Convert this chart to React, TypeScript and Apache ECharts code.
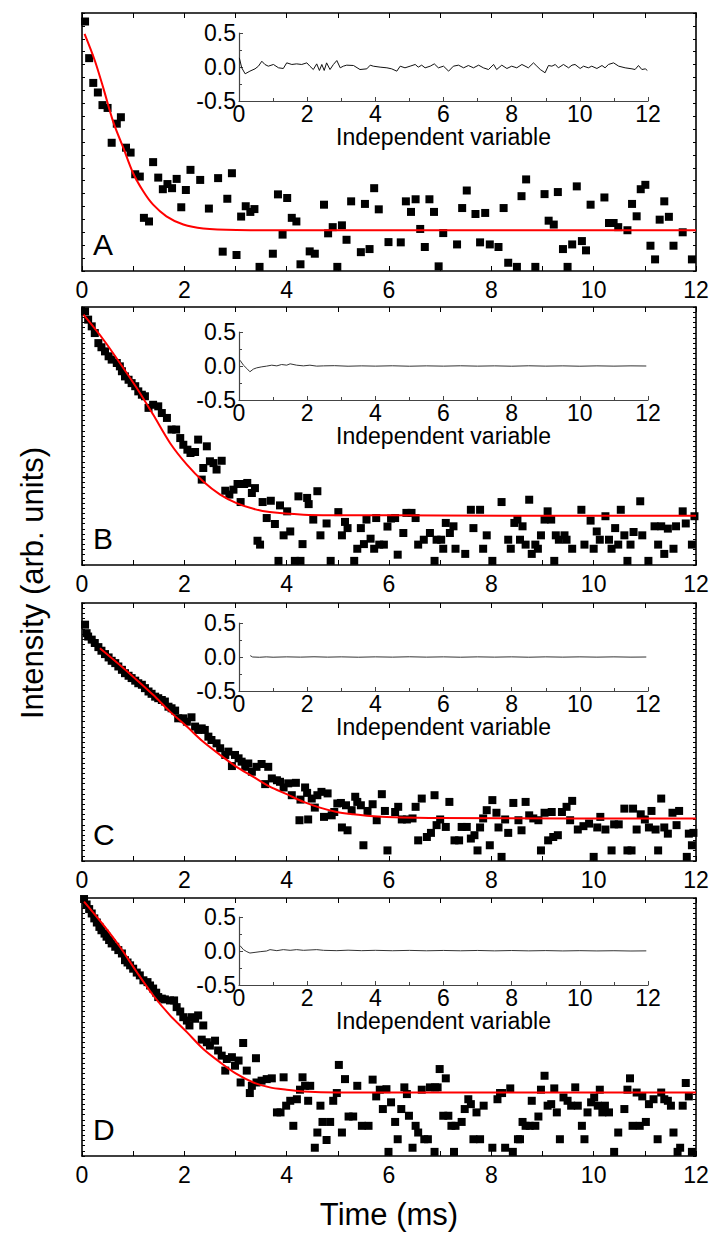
import React, { useEffect, useRef } from "react";
import * as echarts from "echarts";

const FONT = "'Liberation Sans', Arial, Helvetica, sans-serif";

const panelLetters = ["A", "B", "C", "D"];
const xAxisTitle = "Time (ms)";
const yAxisTitle = "Intensity (arb. units)";
const insetAxisTitle = "Independent variable";

// Panel A data (x in ms, y in % of panel height)
const scatterA = [
  [0.06, 96.7], [0.14, 82.5], [0.22, 72.9], [0.31, 69.2], [0.4, 64.3], [0.5, 63.2], [0.58, 49.7], [0.68, 57.1],
  [0.76, 59.6], [0.86, 47.8], [0.95, 45.9], [1.04, 37.5], [1.13, 36.6], [1.21, 20.6], [1.31, 19.2], [1.39, 42.2],
  [1.49, 36.2], [1.58, 31.7], [1.67, 33.7], [1.76, 32.1], [1.85, 35.7], [1.94, 24.7], [2.03, 31.4], [2.12, 39.2],
  [2.31, 35.3], [2.48, 24.2], [2.66, 36.0], [2.75, 7.5], [2.84, 28.0], [2.93, 37.9], [3.02, 6.2], [3.11, 21.1],
  [3.2, 25.1], [3.29, 22.9], [3.37, 24.0], [3.47, 1.6], [3.73, 6.7], [3.83, 29.7], [3.92, 14.1], [4.01, 28.3],
  [4.1, 20.6], [4.19, 19.2], [4.27, 2.6], [4.45, 7.6], [4.55, 6.7], [4.73, 25.7], [4.81, 14.6], [4.9, 17.0],
  [4.99, 1.6], [5.08, 17.7], [5.17, 12.1], [5.26, 27.0], [5.45, 7.3], [5.53, 26.0], [5.62, 8.5], [5.71, 32.1],
  [5.8, 23.9], [5.99, 11.2], [6.23, 11.1], [6.33, 27.0], [6.43, 22.9], [6.52, 27.8], [6.61, 16.3], [6.7, 9.3],
  [6.79, 27.8], [6.88, 22.9], [6.97, 1.8], [7.06, 14.7], [7.33, 10.3], [7.43, 24.4], [7.52, 31.2], [7.69, 22.1],
  [7.78, 11.1], [7.88, 22.5], [7.97, 10.3], [8.14, 9.3], [8.24, 24.4], [8.33, 3.2], [8.5, 1.6], [8.59, 29.0],
  [8.68, 35.5], [8.86, 1.6], [9.04, 29.8], [9.12, 19.5], [9.22, 18.0], [9.3, 30.6], [9.4, 8.5], [9.49, 1.6],
  [9.58, 10.3], [9.67, 32.8], [9.77, 11.6], [9.85, 8.0], [9.94, 25.7], [10.21, 28.5], [10.3, 18.6], [10.39, 18.6],
  [10.48, 17.0], [10.66, 15.8], [10.75, 26.0], [10.84, 21.2], [10.92, 31.7], [11.01, 33.4], [11.11, 9.8],
  [11.2, 4.5], [11.29, 19.9], [11.38, 27.0], [11.47, 21.0], [11.56, 9.8], [11.74, 15.0], [11.92, 4.5],
];
const fitA = [
  [0.05, 91.9], [0.25, 81.6], [0.42, 70.7], [0.61, 57.8], [0.81, 47.6], [1.0, 37.9], [1.2, 30.8], [1.39, 25.7],
  [1.65, 21.2], [1.98, 18.0], [2.37, 16.5], [3.02, 15.9], [4.0, 15.8], [6.0, 15.8], [9.0, 15.8], [12.0, 15.8],
];
const residA = [
  [0.01, 0.134], [0.08, -0.012], [0.18, -0.1], [0.32, -0.061], [0.47, -0.027], [0.57, 0.012], [0.67, 0.085],
  [0.76, 0.037], [0.86, 0.012], [1.01, 0.037], [1.16, -0.012], [1.3, -0.022], [1.4, 0.061], [1.55, 0.037],
  [1.69, 0.046], [1.84, 0.037], [1.99, 0.061], [2.08, 0.012], [2.18, -0.037], [2.28, 0.046], [2.36, -0.051],
  [2.43, 0.037], [2.5, -0.051], [2.57, 0.061], [2.67, -0.037], [2.77, 0.037], [2.87, 0.095], [2.97, -0.012],
  [3.06, 0.012], [3.16, 0.027], [3.36, 0.022], [3.55, -0.037], [3.75, -0.027], [3.85, 0.027], [3.94, 0.012],
  [4.14, -0.002], [4.34, -0.012], [4.48, -0.027], [4.63, -0.061], [4.73, 0.012], [4.87, -0.012], [5.02, 0.012],
  [5.17, 0.037], [5.26, -0.002], [5.36, 0.027], [5.46, -0.012], [5.61, 0.012], [5.73, 0.046], [5.85, -0.012],
  [6.0, 0.012], [6.15, -0.061], [6.29, 0.012], [6.44, 0.027], [6.59, -0.012], [6.73, 0.022], [6.88, -0.012],
  [7.03, 0.027], [7.17, -0.012], [7.32, -0.037], [7.47, 0.037], [7.56, -0.037], [7.71, 0.027], [7.86, -0.022],
  [8.0, 0.012], [8.15, -0.012], [8.3, 0.037], [8.49, -0.012], [8.64, 0.061], [8.74, 0.012], [8.84, -0.037],
  [8.98, -0.085], [9.08, 0.022], [9.18, 0.012], [9.28, 0.037], [9.37, -0.012], [9.52, 0.037], [9.67, -0.012],
  [9.77, 0.027], [9.86, 0.037], [10.01, -0.022], [10.11, 0.012], [10.25, -0.012], [10.35, 0.012], [10.5, -0.022],
  [10.65, 0.022], [10.74, -0.012], [10.84, 0.037], [10.99, 0.061], [11.14, 0.012], [11.33, -0.012],
  [11.53, -0.027], [11.62, -0.037], [11.72, 0.022], [11.82, -0.037], [11.92, -0.027], [11.98, -0.051],
];

// Panel B data
const scatterB = [
  [0.06, 98.3], [0.12, 95.1], [0.19, 92.5], [0.25, 89.9], [0.32, 86.0], [0.38, 84.4], [0.45, 82.8], [0.52, 80.9],
  [0.58, 79.6], [0.68, 78.3], [0.74, 77.0], [0.78, 75.1], [0.84, 73.1], [0.91, 71.8], [0.97, 70.5], [1.04, 69.3],
  [1.1, 67.3], [1.17, 66.0], [1.23, 65.4], [1.3, 60.9], [1.39, 62.1], [1.49, 61.5], [1.56, 58.9], [1.66, 57.0],
  [1.75, 52.5], [1.84, 52.5], [1.92, 49.2], [1.98, 46.6], [2.06, 44.7], [2.12, 43.4], [2.21, 43.8], [2.27, 48.6],
  [2.34, 33.1], [2.37, 37.6], [2.44, 46.0], [2.5, 40.2], [2.57, 39.5], [2.63, 37.0], [2.73, 40.4], [2.8, 28.8],
  [2.88, 27.3], [2.96, 29.2], [3.04, 31.4], [3.1, 24.4], [3.17, 31.4], [3.23, 31.8], [3.32, 27.9], [3.38, 29.8],
  [3.43, 9.4], [3.48, 7.9], [3.53, 24.4], [3.61, 18.2], [3.69, 24.9], [3.77, 15.9], [3.84, 1.6], [3.87, 23.1],
  [3.94, 11.5], [4.01, 20.8], [4.07, 13.0], [4.16, 1.6], [4.23, 26.6], [4.27, 1.6], [4.31, 8.1], [4.4, 26.0],
  [4.43, 23.6], [4.52, 17.6], [4.6, 28.6], [4.66, 11.5], [4.78, 16.1], [4.86, 1.6], [5.01, 20.5], [5.08, 11.5],
  [5.14, 16.7], [5.19, 14.3], [5.32, 1.6], [5.38, 6.3], [5.45, 14.3], [5.51, 8.1], [5.56, 17.6], [5.64, 10.2],
  [5.71, 6.3], [5.75, 18.2], [5.81, 7.9], [5.9, 7.9], [5.97, 14.9], [6.04, 18.0], [6.12, 18.2], [6.17, 4.0],
  [6.28, 12.4], [6.34, 20.2], [6.44, 20.2], [6.52, 18.2], [6.57, 7.9], [6.68, 9.8], [6.8, 12.4], [6.89, 1.6],
  [6.93, 9.8], [7.02, 9.8], [7.06, 6.3], [7.11, 16.3], [7.19, 12.4], [7.26, 15.0], [7.3, 6.3], [7.49, 4.3],
  [7.6, 21.4], [7.65, 14.3], [7.78, 21.4], [7.84, 6.3], [7.91, 11.5], [8.02, 1.6], [8.2, 24.4], [8.33, 9.8],
  [8.38, 6.3], [8.45, 16.3], [8.51, 17.6], [8.56, 9.8], [8.61, 15.0], [8.67, 7.9], [8.74, 25.3], [8.79, 4.3],
  [8.86, 7.9], [8.91, 6.3], [8.97, 11.5], [9.04, 17.6], [9.1, 20.8], [9.17, 17.6], [9.23, 1.6], [9.26, 11.5],
  [9.32, 9.8], [9.43, 11.5], [9.47, 9.8], [9.58, 6.3], [9.76, 21.4], [9.82, 7.9], [9.94, 17.2], [10.0, 6.3],
  [10.06, 13.0], [10.12, 9.8], [10.23, 18.9], [10.3, 9.8], [10.35, 6.3], [10.42, 14.3], [10.48, 7.9],
  [10.53, 21.4], [10.6, 11.5], [10.66, 1.6], [10.72, 7.9], [10.78, 12.8], [10.91, 24.7], [10.95, 11.5],
  [11.07, 1.6], [11.19, 15.0], [11.26, 7.9], [11.32, 15.0], [11.38, 4.3], [11.45, 14.1], [11.56, 6.3],
  [11.61, 15.0], [11.74, 20.8], [11.8, 16.1], [11.92, 7.9], [11.97, 18.9],
];
const fitB = [
  [0.03, 97.0], [0.42, 87.3], [0.74, 78.3], [1.07, 68.6], [1.39, 58.3], [1.72, 47.3], [2.05, 38.9], [2.37, 32.4],
  [2.7, 27.3], [3.02, 24.0], [3.35, 21.8], [3.67, 20.5], [4.33, 19.5], [4.98, 19.3], [7.0, 19.2], [9.5, 19.1],
  [12.0, 19.1],
];
const residB = [
  [0.03, 0.085], [0.13, 0.012], [0.23, -0.037], [0.32, -0.085], [0.42, -0.046], [0.52, -0.027], [0.67, -0.012],
  [0.81, -0.002], [0.96, 0.012], [1.11, 0.002], [1.25, 0.022], [1.4, 0.012], [1.5, 0.032], [1.69, 0.012],
  [1.89, 0.002], [2.08, 0.012], [2.28, -0.002], [2.48, 0.002], [2.8, 0.005], [3.2, -0.003], [3.6, 0.002],
  [4.0, -0.002], [4.5, 0.003], [5.0, -0.003], [5.5, 0.002], [6.0, -0.002], [6.5, 0.003], [7.0, -0.002],
  [7.5, 0.002], [8.0, -0.003], [8.5, 0.003], [9.0, -0.002], [9.5, 0.002], [10.0, -0.003], [10.5, 0.002],
  [11.0, -0.002], [11.5, 0.002], [11.95, 0.0],
];

// Panel C data
const scatterC = [
  [0.06, 91.6], [0.09, 88.3], [0.12, 87.0], [0.19, 85.8], [0.25, 84.5], [0.32, 82.9], [0.38, 81.5], [0.45, 80.2],
  [0.52, 78.9], [0.58, 77.6], [0.65, 76.7], [0.71, 75.4], [0.78, 74.1], [0.84, 72.8], [0.91, 71.8], [0.97, 70.9],
  [1.04, 69.9], [1.1, 68.9], [1.17, 68.3], [1.23, 67.0], [1.3, 65.7], [1.36, 64.8], [1.43, 63.7], [1.49, 63.1],
  [1.56, 62.4], [1.62, 61.8], [1.69, 59.8], [1.75, 59.2], [1.82, 58.3], [1.88, 55.3], [1.98, 55.3], [2.05, 54.0],
  [2.14, 55.7], [2.21, 52.1], [2.27, 50.8], [2.34, 51.4], [2.4, 50.8], [2.47, 48.2], [2.53, 46.9], [2.63, 45.6],
  [2.7, 43.7], [2.8, 41.1], [2.86, 42.4], [2.93, 36.8], [2.99, 41.1], [3.06, 39.8], [3.12, 38.5], [3.19, 36.5],
  [3.25, 37.8], [3.32, 34.6], [3.41, 36.5], [3.51, 37.6], [3.58, 29.8], [3.64, 36.5], [3.71, 32.0], [3.81, 31.3],
  [3.87, 30.7], [3.94, 28.5], [4.03, 30.1], [4.1, 25.5], [4.18, 30.3], [4.25, 15.8], [4.27, 23.8], [4.36, 28.5],
  [4.4, 26.4], [4.42, 16.1], [4.49, 24.2], [4.55, 20.7], [4.6, 25.5], [4.68, 26.8], [4.73, 17.1], [4.8, 26.2],
  [4.88, 17.7], [4.93, 19.0], [4.99, 22.3], [5.06, 22.5], [5.08, 13.0], [5.16, 21.6], [5.19, 11.9], [5.27, 19.7],
  [5.34, 24.9], [5.38, 22.9], [5.45, 21.6], [5.5, 6.1], [5.58, 19.4], [5.68, 22.0], [5.76, 15.8], [5.86, 25.9],
  [5.92, 19.4], [5.97, 4.1], [6.12, 19.0], [6.18, 21.0], [6.25, 16.1], [6.35, 16.1], [6.46, 16.5], [6.52, 21.0],
  [6.57, 8.0], [6.64, 24.2], [6.74, 9.3], [6.82, 10.9], [6.89, 25.5], [6.93, 13.9], [7.0, 16.1], [7.11, 13.2],
  [7.18, 22.9], [7.28, 8.0], [7.37, 8.0], [7.42, 13.2], [7.52, 13.2], [7.6, 8.7], [7.67, 10.0], [7.73, 4.1],
  [7.78, 13.0], [7.84, 16.5], [7.91, 19.7], [7.97, 6.1], [8.02, 23.6], [8.1, 18.7], [8.14, 13.0], [8.2, 1.6],
  [8.27, 16.1], [8.33, 10.9], [8.43, 22.5], [8.53, 15.8], [8.59, 11.9], [8.67, 22.9], [8.74, 17.7], [8.82, 16.5],
  [8.92, 15.8], [8.97, 4.1], [9.04, 18.7], [9.11, 8.0], [9.18, 19.0], [9.21, 9.3], [9.3, 10.0], [9.38, 19.0],
  [9.47, 21.0], [9.54, 15.8], [9.58, 23.3], [9.69, 12.2], [9.8, 13.5], [9.91, 14.5], [10.0, 1.6], [10.07, 13.0],
  [10.13, 17.1], [10.23, 12.2], [10.35, 4.1], [10.4, 14.2], [10.49, 14.2], [10.6, 20.3], [10.66, 4.1],
  [10.74, 4.1], [10.77, 20.3], [10.84, 12.2], [10.92, 18.1], [11.0, 16.1], [11.08, 13.0], [11.13, 19.4],
  [11.21, 12.2], [11.26, 4.1], [11.32, 24.2], [11.38, 13.0], [11.45, 10.6], [11.54, 18.7], [11.62, 13.9],
  [11.67, 19.4], [11.82, 1.6], [11.86, 10.6], [11.92, 6.1], [11.95, 10.9],
];
const fitC = [
  [0.35, 82.5], [0.74, 76.0], [1.07, 70.2], [1.39, 64.4], [1.72, 57.9], [2.05, 52.1], [2.37, 46.2], [2.7, 41.1],
  [3.02, 36.5], [3.35, 32.6], [3.67, 28.8], [4.0, 25.9], [4.33, 22.9], [4.65, 20.7], [4.98, 19.0], [5.3, 18.1],
  [5.63, 17.4], [5.95, 17.1], [7.0, 16.7], [9.5, 16.5], [12.0, 16.5],
];
const residC = [
  [0.33, 0.02], [0.4, 0.0], [0.6, -0.004], [0.8, 0.002], [1.0, -0.003], [1.4, 0.002], [1.8, -0.002],
  [2.2, 0.003], [2.6, -0.002], [3.0, 0.002], [3.5, -0.003], [4.0, 0.002], [4.5, -0.002], [5.0, 0.003],
  [5.5, -0.002], [6.0, 0.002], [6.5, -0.003], [7.0, 0.002], [7.5, -0.002], [8.0, 0.002], [8.5, -0.003],
  [9.0, 0.002], [9.5, -0.002], [10.0, 0.002], [10.5, -0.002], [11.0, 0.002], [11.5, -0.002], [11.95, 0.0],
];

// Panel D data
const scatterD = [
  [0.04, 99.6], [0.09, 97.5], [0.14, 95.7], [0.19, 94.0], [0.24, 92.1], [0.29, 90.5], [0.34, 88.8], [0.38, 87.5],
  [0.44, 86.2], [0.48, 85.0], [0.53, 83.7], [0.58, 82.4], [0.65, 81.1], [0.71, 79.8], [0.78, 78.5], [0.84, 75.9],
  [0.89, 75.0], [0.94, 73.9], [1.0, 72.6], [1.07, 71.1], [1.13, 70.0], [1.2, 68.1], [1.28, 67.4], [1.33, 66.1],
  [1.39, 64.9], [1.45, 63.3], [1.49, 61.6], [1.56, 61.0], [1.62, 60.7], [1.72, 60.3], [1.8, 60.3], [1.85, 57.7],
  [1.92, 56.0], [1.98, 53.8], [2.05, 52.5], [2.1, 50.6], [2.14, 53.8], [2.21, 53.2], [2.27, 54.5], [2.34, 45.1],
  [2.37, 50.6], [2.44, 44.1], [2.5, 42.8], [2.6, 44.7], [2.66, 40.9], [2.73, 38.9], [2.8, 33.1], [2.83, 37.6],
  [2.93, 38.3], [2.99, 35.0], [3.06, 37.0], [3.1, 28.5], [3.15, 43.8], [3.22, 33.1], [3.28, 24.4], [3.32, 27.2],
  [3.4, 37.9], [3.41, 28.5], [3.51, 29.2], [3.61, 29.8], [3.71, 30.1], [3.81, 16.9], [3.88, 16.9], [3.94, 30.5],
  [3.99, 19.5], [4.07, 21.4], [4.13, 11.7], [4.2, 22.0], [4.26, 25.7], [4.31, 30.5], [4.36, 27.2], [4.42, 21.4],
  [4.46, 27.2], [4.55, 3.2], [4.6, 9.1], [4.66, 19.5], [4.7, 13.2], [4.78, 6.2], [4.85, 13.2], [4.91, 21.4],
  [4.98, 24.4], [5.02, 35.3], [5.08, 9.1], [5.14, 29.8], [5.21, 15.3], [5.3, 15.3], [5.38, 27.2], [5.47, 11.7],
  [5.6, 11.7], [5.68, 29.6], [5.75, 23.1], [5.82, 25.7], [5.88, 18.2], [5.95, 25.9], [5.99, 1.6], [6.04, 20.8],
  [6.12, 13.2], [6.17, 6.5], [6.24, 18.2], [6.3, 26.6], [6.35, 24.0], [6.39, 15.6], [6.46, 3.2], [6.52, 11.7],
  [6.57, 9.1], [6.64, 25.7], [6.69, 6.5], [6.76, 6.5], [6.8, 26.6], [6.89, 1.6], [6.9, 26.6], [6.95, 26.6],
  [6.99, 33.7], [7.06, 15.6], [7.11, 30.1], [7.16, 15.6], [7.22, 11.7], [7.27, 1.6], [7.3, 11.7], [7.42, 13.2],
  [7.48, 18.2], [7.55, 22.0], [7.6, 20.1], [7.65, 6.5], [7.71, 16.9], [7.78, 6.5], [7.85, 19.5], [8.02, 3.2],
  [8.12, 22.0], [8.17, 24.4], [8.21, 24.4], [8.27, 3.2], [8.37, 26.2], [8.42, 1.6], [8.52, 6.5], [8.56, 6.5],
  [8.61, 13.2], [8.67, 11.7], [8.75, 11.7], [8.79, 21.4], [8.86, 11.7], [8.92, 15.3], [8.97, 25.7], [9.04, 31.1],
  [9.1, 19.5], [9.17, 20.1], [9.23, 26.2], [9.28, 16.9], [9.34, 6.5], [9.41, 22.7], [9.49, 21.4], [9.56, 19.5],
  [9.64, 26.6], [9.69, 19.5], [9.77, 11.7], [9.82, 6.5], [9.88, 16.9], [9.95, 20.8], [10.01, 22.7], [10.08, 19.5],
  [10.12, 25.7], [10.17, 16.9], [10.22, 19.5], [10.3, 16.9], [10.4, 1.6], [10.48, 9.1], [10.6, 18.2],
  [10.66, 25.7], [10.71, 30.1], [10.76, 11.7], [10.84, 24.6], [10.9, 11.7], [10.95, 23.1], [11.02, 13.2],
  [11.08, 20.1], [11.17, 22.0], [11.25, 6.5], [11.32, 24.6], [11.38, 22.0], [11.45, 21.4], [11.51, 19.5],
  [11.56, 9.1], [11.64, 1.6], [11.69, 3.2], [11.74, 19.5], [11.8, 28.3], [11.86, 23.1], [11.92, 1.6],
];
const fitD = [
  [0.04, 98.6], [0.42, 89.5], [0.74, 81.1], [1.07, 71.3], [1.39, 62.3], [1.72, 54.5], [2.05, 48.0], [2.37, 41.5],
  [2.7, 36.3], [3.02, 31.8], [3.35, 28.5], [3.67, 26.6], [4.0, 25.7], [4.33, 25.0], [4.98, 24.6], [7.0, 24.6],
  [9.5, 24.6], [12.0, 24.6],
];
const residD = [
  [0.03, 0.079], [0.13, 0.02], [0.23, -0.01], [0.32, -0.03], [0.47, -0.02], [0.62, -0.01], [0.81, 0.0],
  [0.91, 0.02], [1.11, 0.005], [1.3, 0.02], [1.5, 0.01], [1.69, 0.02], [1.89, 0.01], [2.28, 0.02], [2.48, 0.01],
  [2.87, 0.005], [3.2, 0.012], [3.6, 0.005], [4.0, 0.01], [4.5, 0.004], [5.0, 0.009], [5.5, 0.003],
  [6.0, 0.008], [6.5, 0.003], [7.0, 0.008], [7.5, 0.002], [8.0, 0.007], [8.5, 0.002], [9.0, 0.006],
  [9.5, 0.001], [10.0, 0.005], [10.5, 0.001], [11.0, 0.004], [11.5, 0.0], [11.95, 0.002],
];

const scatterSets = [scatterA, scatterB, scatterC, scatterD];
const fitSets = [fitA, fitB, fitC, fitD];
const residSets = [residA, residB, residC, residD];

export default function App() {
  const ref = useRef<HTMLDivElement>(null);

  useEffect(() => {
    if (!ref.current) return;
    const chart = echarts.init(ref.current, undefined, { renderer: "svg" });

    const mainTops = [13, 307, 603, 898];
    const mainH = 258;
    const insetTops = [33, 332, 623, 917];
    const insetH = 68;
    const yTickInt = [5, 2, 2, 2];

    const grid: any[] = [];
    const xAxis: any[] = [];
    const yAxis: any[] = [];
    const series: any[] = [];
    const graphic: any[] = [];

    const black = "#000";
    const insetColor = "#444";

    for (let i = 0; i < 4; i++) {
      grid.push({ left: 82, top: mainTops[i], width: 614, height: mainH });
      grid.push({ left: 239, top: insetTops[i], width: 409, height: insetH });

      const mainX = (pos: string, showLabel: boolean) => ({
        gridIndex: 2 * i,
        type: "value",
        position: pos,
        min: 0,
        max: 12,
        interval: 2,
        axisLine: { show: true, onZero: false, lineStyle: { color: black, width: 1.6 } },
        axisTick: { show: true, inside: true, length: 5, lineStyle: { color: black, width: 1 } },
        minorTick: { show: true, splitNumber: 2, length: 5, lineStyle: { color: black, width: 1 } },
        axisLabel: { show: showLabel, fontSize: 23, color: black, margin: 7, fontFamily: FONT },
        splitLine: { show: false },
        minorSplitLine: { show: false },
      });
      xAxis.push(mainX("bottom", true));
      xAxis.push(mainX("top", false));
      xAxis.push({
        gridIndex: 2 * i + 1,
        type: "value",
        position: "bottom",
        min: 0,
        max: 12,
        interval: 2,
        name: insetAxisTitle,
        nameLocation: "middle",
        nameGap: 20,
        nameTextStyle: { fontSize: 23, color: black, fontFamily: FONT },
        axisLine: { show: true, onZero: false, lineStyle: { color: insetColor, width: 1.2 } },
        axisTick: { show: true, inside: true, length: 4, lineStyle: { color: insetColor } },
        minorTick: { show: true, splitNumber: 2, length: 3, lineStyle: { color: insetColor } },
        axisLabel: { fontSize: 23, color: black, margin: 1, fontFamily: FONT },
        splitLine: { show: false },
      });

      const mainY = (pos: string) => ({
        gridIndex: 2 * i,
        type: "value",
        position: pos,
        min: 0,
        max: 100,
        interval: yTickInt[i],
        axisLine: { show: true, onZero: false, lineStyle: { color: black, width: 1.6 } },
        axisTick: { show: true, inside: true, length: 3, lineStyle: { color: black, width: 1 } },
        axisLabel: { show: false },
        splitLine: { show: false },
      });
      yAxis.push(mainY("left"));
      yAxis.push(mainY("right"));
      yAxis.push({
        gridIndex: 2 * i + 1,
        type: "value",
        position: "left",
        min: -0.5,
        max: 0.5,
        interval: 0.5,
        axisLine: { show: true, onZero: false, lineStyle: { color: insetColor, width: 1.2 } },
        axisTick: { show: true, inside: true, length: 4, lineStyle: { color: insetColor } },
        minorTick: { show: true, splitNumber: 2, length: 3, lineStyle: { color: insetColor } },
        axisLabel: {
          fontSize: 23,
          color: black,
          margin: 3,
          fontFamily: FONT,
          formatter: (v: number) => v.toFixed(1),
        },
        splitLine: { show: false },
      });

      series.push({
        type: "scatter",
        xAxisIndex: 3 * i,
        yAxisIndex: 3 * i,
        data: scatterSets[i],
        symbol: "rect",
        symbolSize: 8,
        itemStyle: { color: "#000", opacity: 1 },
        z: 2,
      });
      series.push({
        type: "line",
        xAxisIndex: 3 * i,
        yAxisIndex: 3 * i,
        data: fitSets[i],
        smooth: 0.3,
        showSymbol: false,
        symbol: "none",
        lineStyle: { color: "#ff0000", width: 2 },
        z: 3,
      });
      series.push({
        type: "line",
        xAxisIndex: 3 * i + 2,
        yAxisIndex: 3 * i + 2,
        data: residSets[i],
        showSymbol: false,
        symbol: "none",
        lineStyle: { color: i === 0 ? "#111" : "#333", width: 1 },
        z: 3,
      });

      graphic.push({
        type: "text",
        x: 93,
        y: mainTops[i] + 231,
        style: {
          text: panelLetters[i],
          fontSize: 30,
          fontFamily: FONT,
          fill: black,
          align: "left",
          verticalAlign: "middle",
        },
      });
    }

    graphic.push({
      type: "text",
      x: 32,
      y: 583,
      rotation: Math.PI / 2,
      style: {
        text: yAxisTitle,
        fontSize: 31,
        fontFamily: FONT,
        fill: black,
        align: "center",
        verticalAlign: "middle",
      },
    });
    graphic.push({
      type: "text",
      x: 389,
      y: 1214,
      style: {
        text: xAxisTitle,
        fontSize: 31,
        fontFamily: FONT,
        fill: black,
        align: "center",
        verticalAlign: "middle",
      },
    });

    chart.setOption({
      animation: false,
      backgroundColor: "#fff",
      textStyle: { fontFamily: FONT },
      grid,
      xAxis,
      yAxis,
      series,
      graphic,
    });

    return () => chart.dispose();
  }, []);

  return (
    <div
      ref={ref}
      style={{ position: "absolute", left: 0, top: 0, width: 713, height: 1237 }}
    />
  );
}
